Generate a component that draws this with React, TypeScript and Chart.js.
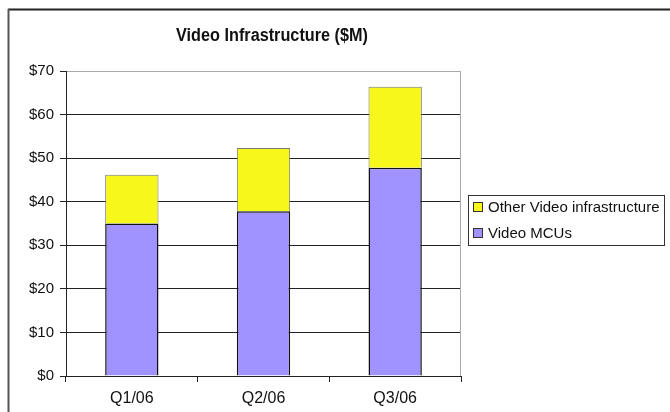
import React, { useEffect, useRef } from "react";
import { Chart, registerables } from "chart.js";

Chart.register(...registerables);

const categories = ["Q1/06", "Q2/06", "Q3/06"];
const videoMCUs = [35.0, 37.8, 47.8];
const otherVideo = [11.2, 14.5, 18.6];
const seriesNames = ["Video MCUs", "Other Video infrastructure"];
const titleText = "Video Infrastructure ($M)";
const yMin = 0;
const yMax = 70;
const yStep = 10;

const FONT = '"Liberation Sans", Arial, sans-serif';

const framePlugin = {
  id: "frame",
  beforeDraw(chart: any) {
    const ctx = chart.ctx;
    ctx.save();
    ctx.fillStyle = "#ffffff";
    ctx.fillRect(0, 0, chart.width, chart.height);
    ctx.lineWidth = 2;
    ctx.strokeStyle = "#222";
    ctx.beginPath();
    ctx.moveTo(8, 9.5);
    ctx.lineTo(chart.width, 9.5);
    ctx.stroke();
    ctx.strokeStyle = "#555";
    ctx.beginPath();
    ctx.moveTo(8.5, 9);
    ctx.lineTo(8.5, chart.height);
    ctx.stroke();
    ctx.restore();
  },
  beforeDatasetsDraw(chart: any) {
    const { ctx, chartArea } = chart;
    ctx.save();
    ctx.strokeStyle = "#aaa";
    ctx.lineWidth = 1;
    ctx.beginPath();
    ctx.moveTo(Math.round(chartArea.right) - 0.5, chartArea.top);
    ctx.lineTo(Math.round(chartArea.right) - 0.5, chartArea.bottom);
    ctx.stroke();
    ctx.restore();
  },
  afterDraw(chart: any) {
    const ctx = chart.ctx;
    ctx.save();
    // title (condensed look)
    ctx.fillStyle = "#111";
    ctx.font = "bold 18px " + FONT;
    ctx.textAlign = "center";
    ctx.textBaseline = "middle";
    const w = ctx.measureText(titleText).width;
    const sx = 192 / w;
    ctx.save();
    ctx.translate(272, 36);
    ctx.scale(sx, 1);
    ctx.fillText(titleText, 0, 0);
    ctx.restore();
    // legend
    const bx = 468, by = 195, bw = 196, bh = 50;
    ctx.strokeStyle = "#333";
    ctx.lineWidth = 1;
    ctx.strokeRect(bx + 0.5, by + 0.5, bw, bh);
    const ds = chart.data.datasets.slice().reverse();
    ctx.font = "15px " + FONT;
    ctx.textAlign = "left";
    ds.forEach((d: any, i: number) => {
      const cy = 207 + i * 26;
      ctx.fillStyle = d.backgroundColor;
      ctx.fillRect(474, cy - 4, 8, 8);
      ctx.strokeStyle = "#333";
      ctx.strokeRect(473.5, cy - 4.5, 9, 9);
      ctx.fillStyle = "#111";
      ctx.fillText(d.label, 488, cy + 1);
    });
    ctx.restore();
  },
};

export default function App() {
  const ref = useRef<HTMLCanvasElement>(null);
  useEffect(() => {
    if (!ref.current) return;
    const chart = new Chart(ref.current, {
      type: "bar",
      data: {
        labels: categories,
        datasets: [
          {
            label: seriesNames[0],
            data: videoMCUs,
            backgroundColor: "#a092ff",
            borderColor: "#111",
            borderWidth: 1.5,
            categoryPercentage: 1,
            barPercentage: 0.405,
          },
          {
            label: seriesNames[1],
            data: otherVideo,
            backgroundColor: "#f7f71c",
            borderColor: "#777",
            borderWidth: 1,
            categoryPercentage: 1,
            barPercentage: 0.405,
          },
        ],
      },
      options: {
        responsive: false,
        animation: false,
        layout: { padding: { top: 71, right: 209, bottom: 0, left: 0 } },
        plugins: {
          legend: { display: false },
          title: { display: false },
          tooltip: { enabled: false },
        },
        scales: {
          x: {
            stacked: true,
            afterFit: (s: any) => {
              s.height = 36;
            },
            grid: {
              display: true,
              offset: true,
              drawOnChartArea: false,
              drawTicks: true,
              tickLength: 6,
              tickColor: "#222",
            },
            border: { display: true, color: "#222", width: 1 },
            ticks: {
              color: "#111",
              font: { family: FONT, size: 16 },
              padding: 7,
            },
          },
          y: {
            stacked: true,
            min: yMin,
            max: yMax,
            afterFit: (s: any) => {
              s.width = 66;
            },
            grid: {
              color: (c: any) => (c.tick && c.tick.value === yMax ? "#aaa" : "#222"),
              tickColor: "#222",
              tickLength: 6,
              lineWidth: 1,
            },
            border: { display: true, color: "#222", width: 1 },
            ticks: {
              stepSize: yStep,
              color: "#111",
              font: { family: FONT, size: 15 },
              padding: 6,
              callback: (v: any) => "$" + v,
            },
          },
        },
      },
      plugins: [framePlugin],
    });
    return () => chart.destroy();
  }, []);
  return (
    <div style={{ position: "fixed", left: 0, top: 0, width: 670, height: 412 }}>
      <canvas ref={ref} width={670} height={412} />
    </div>
  );
}
